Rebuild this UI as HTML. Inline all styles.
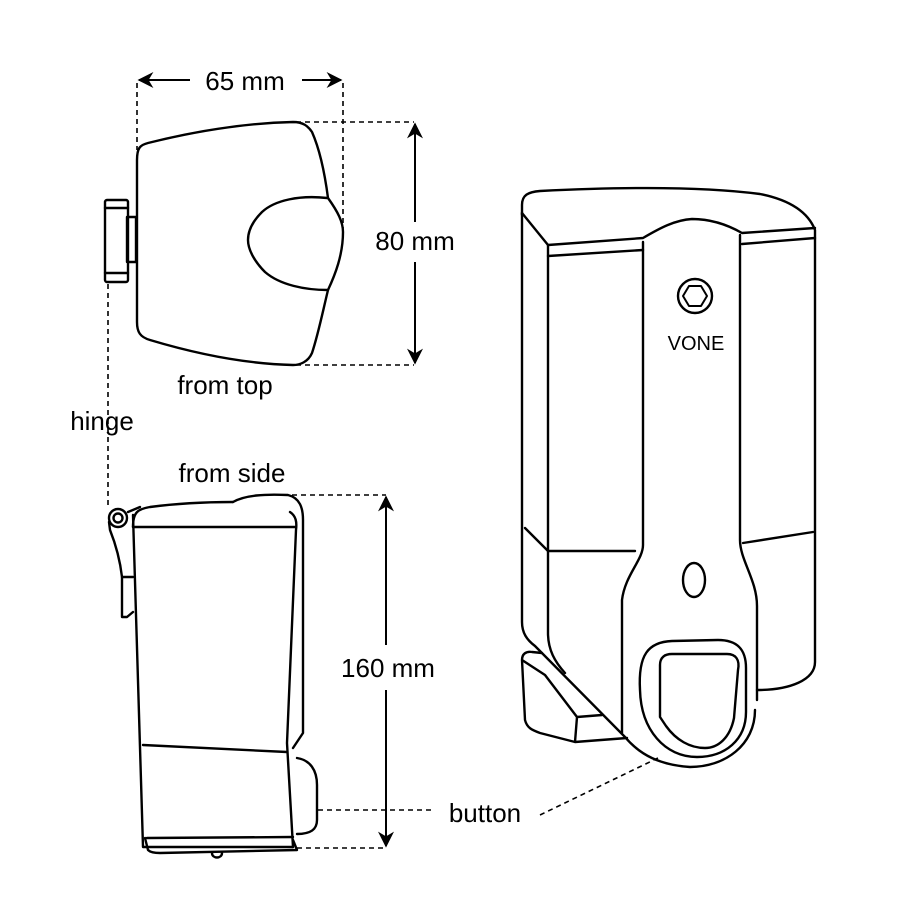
<!DOCTYPE html>
<html><head><meta charset="utf-8"><style>html,body{margin:0;padding:0;background:#fff}svg{display:block}</style></head>
<body>
<svg width="900" height="900" viewBox="0 0 900 900" xmlns="http://www.w3.org/2000/svg" font-family="Liberation Sans, Arial, sans-serif">
<defs>
<marker id="ah" viewBox="0 0 10 10" refX="9" refY="5" markerWidth="16" markerHeight="16" markerUnits="userSpaceOnUse" orient="auto"><path d="M0,0 L10,5 L0,10 L3,5 Z" fill="#000"/></marker>
</defs>
<g fill="none" stroke="#000" stroke-width="1.6" stroke-dasharray="5,4">
<line x1="137" y1="83" x2="137" y2="150"/>
<line x1="343" y1="83" x2="343" y2="228"/>
<line x1="296" y1="122" x2="414" y2="122"/>
<line x1="296" y1="365" x2="414" y2="365"/>
<line x1="108" y1="284" x2="108" y2="508"/>
<line x1="292" y1="495" x2="386" y2="495"/>
<line x1="297" y1="848" x2="386" y2="848"/>
<line x1="318" y1="810" x2="432" y2="810"/>
<line x1="540" y1="815" x2="658" y2="758"/>
</g>
<g fill="none" stroke="#000" stroke-width="2" marker-end="url(#ah)">
<line x1="190" y1="80" x2="139" y2="80"/>
<line x1="302" y1="80" x2="341" y2="80"/>
<line x1="415" y1="222" x2="415" y2="124"/>
<line x1="415" y1="262" x2="415" y2="363"/>
<line x1="386" y1="645" x2="386" y2="497"/>
<line x1="386" y1="690" x2="386" y2="846"/>
</g>
<g font-size="26" fill="#000" text-anchor="middle">
<text x="245" y="90">65 mm</text>
<text x="415" y="250">80 mm</text>
<text x="225" y="394">from top</text>
<text x="102" y="430">hinge</text>
<text x="232" y="482">from side</text>
<text x="388" y="677">160 mm</text>
<text x="485" y="822">button</text>
</g>
<g fill="none" stroke="#000" stroke-width="2.4" stroke-linejoin="round" stroke-linecap="round">
<path d="M137,160 C137,148 140,145 148,143 C200,130 250,123 293,122 C303,122 308,126 312,132 C320,150 325,175 328,198 C338,212 343,222 343,232 C343,255 335,275 328,290 C322,315 318,335 312,353 C308,362 300,365 293,365 C250,364 200,355 150,340 C140,337 137,332 137,322 Z"/>
<path d="M327,198 C300,195 275,200 262,212 C252,222 248,232 248,240 C248,250 255,262 265,272 C280,285 305,290 328,290"/>
<rect x="105" y="200" width="23" height="82" rx="2"/>
<line x1="105" y1="208" x2="128" y2="208"/>
<line x1="105" y1="273" x2="128" y2="273"/>
<rect x="127" y="217" width="9" height="45"/>
<path d="M133,527 C133,512 138,509 150,507 C180,503 210,502 233,502"/>
<path d="M233,502 C245,495 265,494 288,495 C300,498 303,508 303,520 L303,733 L293,748"/>
<path d="M290,512 C296,516 297,522 296,530 L287,743 L293,847"/>
<path d="M133,527 L296,527"/>
<path d="M133,515 L143,847 L293,847"/>
<path d="M143,745 L287,752"/>
<path d="M147,838 L293,837"/>
<path d="M145,838 L148,850 C150,852 155,853 160,853 L297,850 L293,840"/>
<path d="M297,758 C310,760 317,770 317,785 L317,820 C317,830 310,834 297,834"/>
<path d="M212,853 C212,859 222,859 222,853"/>
<circle cx="118" cy="518" r="9"/>
<circle cx="118" cy="518" r="4.5"/>
<path d="M109,522 L110,530 C116,545 120,560 122,577 L122,617 L127,617 L133,612"/>
<path d="M122,577 L133,577"/>
<path d="M128,512 L140,507"/>
<path d="M522,215 L522,205 C522,195 528,192 540,191 C620,187 700,186 760,194 C790,200 808,212 815,230 L815,662 C815,680 790,690 757,690"/>
<path d="M522,213 L548,245 L643,238 C660,228 675,220 692,219 C712,219 728,225 742,233 L815,228"/>
<path d="M548,256 L643,250 M742,244 L815,238"/>
<path d="M548,245 L548,633 C548,650 555,662 565,673"/>
<path d="M522,213 L522,622 C522,633 527,640 535,646 L625,737 C640,755 660,765 690,767 C725,767 755,745 755,710"/>
<path d="M525,528 L548,551 L635,551"/>
<path d="M643,242 L643,545 C643,560 625,575 622,600 L622,733"/>
<path d="M740,235 L740,540 C740,560 757,580 757,606 L757,700"/>
<path d="M743,543 L813,532"/>
<circle cx="695" cy="296" r="17"/>
<path d="M689,286 L701,286 L707,296 L701,306 L689,306 L683,296 Z" stroke-width="2"/>
<ellipse cx="694" cy="580" rx="11" ry="17"/>
<path d="M640,690 C638,655 648,642 672,641 L718,640 C738,640 746,650 746,668 L746,712 C746,740 725,757 697,757 C665,757 641,730 640,690 Z"/>
<path d="M660,665 C660,657 665,654 672,654 L727,654 C736,654 740,660 738,670 L734,718 C730,738 718,748 705,748 C690,748 676,740 666,726 L660,717 Z"/>
<path d="M522,660 C522,654 526,651 532,652 L542,653 M522,660 L525,720 C527,728 532,730 540,733 L575,742 L627,738 M522,660 L545,675 L577,717 L575,742 M577,717 L602,715"/>
</g>
<text x="696" y="350" font-size="20" text-anchor="middle" fill="#000">VONE</text>
</svg>
</body></html>
